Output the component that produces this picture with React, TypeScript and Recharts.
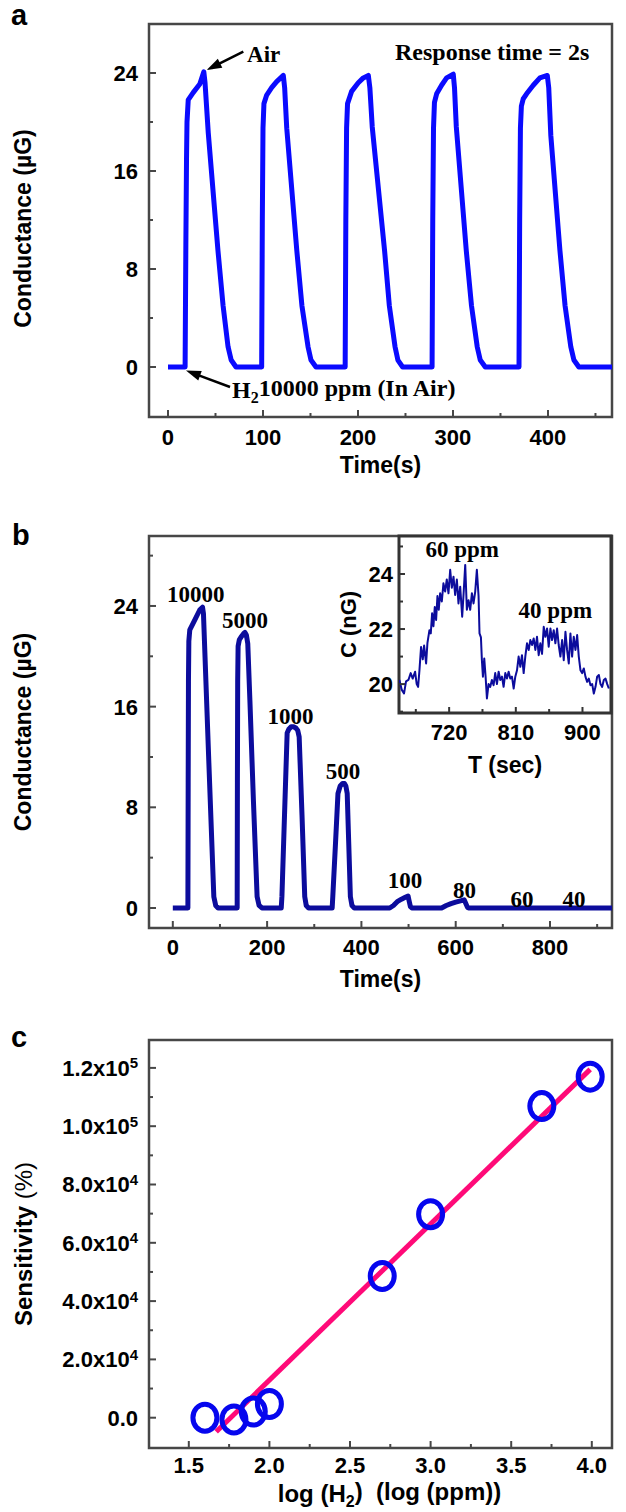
import React from 'react';
import {
  LineChart,
  Line,
  XAxis,
  YAxis,
  ReferenceArea,
  ReferenceDot,
  ReferenceLine,
  ComposedChart,
  Scatter,
  CartesianGrid,
} from 'recharts';

const SANS = '"Liberation Sans", Arial, Helvetica, sans-serif';
const SERIF = '"Liberation Serif", "Times New Roman", Times, serif';
const FRAME = '#474747';

// ---------------- Panel a: conductance vs time, 10000 ppm cycles ----------------
const aTime = [
  0, 18, 18.8, 19.5, 20, 21.3, 26.5, 33.5, 37.7, 39, 42.4, 52.6, 58, 63.2, 66.5, 71.6,
  98.6, 99.3, 100, 101, 103.9, 109.1, 114.4, 121.4, 122.8, 125, 135.6, 141, 147.4, 150.5, 155.8,
  186.5, 187.2, 188, 189, 193.3, 200.3, 205.6, 210.9, 212.5, 215, 228, 233, 239, 242, 247,
  278, 278.7, 279.5, 280.5, 282.8, 288, 293.3, 300.3, 301.6, 303.5, 314, 319.5, 325.5, 328.7, 334,
  369.5, 370.2, 371, 372, 374, 377.5, 384.5, 391.5, 399.3, 400.8, 403, 412.6, 418, 424, 427.3, 432.5, 468,
];
const aCond = [
  0, 0, 10, 17, 20, 21.8, 22.4, 23.1, 24.1, 23.2, 19.1, 9.5, 5, 1.66, 0.57, 0,
  0, 12, 19.5, 21.5, 22.2, 22.8, 23.3, 23.8, 22.8, 19.5, 9.5, 5, 1.66, 0.57, 0,
  0, 12, 19.5, 21.5, 22.5, 23.2, 23.6, 23.8, 22.8, 19.6, 9.5, 5, 1.66, 0.57, 0,
  0, 12, 19.5, 21.6, 22.3, 23.0, 23.6, 23.9, 22.8, 19.6, 9.5, 5, 1.66, 0.57, 0,
  0, 12, 19.5, 21.3, 21.9, 22.3, 23.0, 23.6, 23.8, 22.8, 18.9, 9.5, 5, 1.66, 0.57, 0, 0,
];
const aXTicks = [0, 50, 100, 150, 200, 250, 300, 350, 400, 450];
const aXMajor = [0, 100, 200, 300, 400];
const aYTicks = [0, 4, 8, 12, 16, 20, 24];
const aYMajor = [0, 8, 16, 24];

// ---------------- Panel b: conductance vs time, decreasing concentration ----------------
const bTime = [
  0, 32, 32.6, 33.2, 34, 36, 46.7, 57.3, 63, 65, 76, 87, 91, 96,
  136.5, 137, 137.6, 138.5, 141, 146, 150, 153, 156, 159, 163.5, 171, 178.8, 183, 189,
  230, 231.4, 236, 240, 242.5, 246, 251, 256, 261, 265, 268, 274, 279.8, 283, 288,
  338, 339.3, 345, 350.3, 355, 360, 364, 367, 369.9, 373, 376.6, 380, 385,
  460, 468, 476, 485, 493, 499, 501, 504, 507,
  570, 580, 590, 600, 610, 618, 621, 625, 627, 932,
];
const bCond = [
  0, 0, 10, 18, 21.2, 22.1, 22.9, 23.7, 23.9, 23.4, 12, 0.9, 0.2, 0,
  0, 10, 18, 20.8, 21.3, 21.6, 21.8, 21.9, 21.7, 21, 16.5, 8.5, 0.9, 0.2, 0,
  0, 0.9, 6.3, 11, 13.9, 14.2, 14.4, 14.4, 14.3, 14.1, 13.6, 7.4, 0.9, 0.2, 0,
  0, 0.9, 5.1, 9.1, 9.7, 9.9, 9.9, 9.7, 9.1, 5.3, 0.9, 0.2, 0,
  0, 0.2, 0.5, 0.7, 0.85, 0.95, 0.6, 0.1, 0,
  0, 0.2, 0.35, 0.47, 0.57, 0.65, 0.4, 0.05, 0, 0,
];
const bXTicks = [0, 100, 200, 300, 400, 500, 600, 700, 800, 900];
const bXMajor = [0, 200, 400, 600, 800];
const bYTicks = [0, 4, 8, 12, 16, 20, 24, 28];
const bYMajor = [0, 8, 16, 24];
const bPeakLabels = ['10000', '5000', '1000', '500', '100', '80', '60', '40'];

// ---------------- Inset: 60 ppm and 40 ppm responses ----------------
const insetTime = [
  652.8, 655.9, 659.1, 661.8, 665.0, 668.1, 670.8, 674.0, 676.2, 678.1,
  679.9, 682.1, 684.4, 686.2, 688.9, 690.7, 693.4, 695.2, 697.0, 698.8,
  700.6, 702.4, 704.2, 706.0, 707.8, 710.1, 712.3, 714.6, 716.8, 719.1,
  721.4, 723.6, 725.9, 728.1, 730.4, 732.6, 734.9, 737.6, 739.4, 741.7,
  743.9, 746.2, 748.4, 750.7, 752.9, 755.2, 757.4, 759.7, 761.0, 762.9,
  764.2, 765.6, 767.4, 769.2, 771.0, 773.2, 775.5, 777.7, 780.0, 782.2,
  784.5, 786.8, 789.0, 791.3, 793.5, 795.8, 798.0, 800.3, 802.5, 804.8,
  807.1, 809.3, 811.6, 813.8, 816.1, 818.3, 820.6, 822.8, 825.1, 827.4,
  829.6, 831.9, 834.1, 836.4, 838.6, 840.9, 843.1, 845.4, 847.7, 849.9,
  852.2, 854.4, 856.7, 858.9, 861.2, 863.4, 865.7, 867.9, 870.2, 872.5,
  874.7, 877.0, 879.2, 881.5, 883.7, 886.0, 888.2, 890.5, 892.8, 895.0,
  897.3, 899.5, 901.8, 904.0, 906.3, 908.5, 910.8, 913.1, 915.3, 917.6,
  919.8, 922.1, 924.3, 926.6, 928.8, 931.1, 933.4, 935.6,
];
const insetC = [
  20.15, 19.8, 19.66, 20.1, 20.15, 20.4, 20.2, 20.45, 20.0, 19.9,
  20.5, 21.35, 20.9, 21.4, 20.75, 21.5, 21.96, 21.84, 22.57, 22.1,
  22.8, 22.33, 23.2, 22.7, 23.3, 23.0, 23.66, 23.36, 23.8, 23.3,
  24.15, 23.5, 23.9, 23.24, 23.8, 22.93, 23.54, 22.45, 23.24, 24.33,
  22.7, 23.05, 22.7, 23.3, 22.93, 23.36, 24.15, 23.2, 21.84, 21.7,
  20.87, 20.27, 20.93, 20.27, 19.48, 20.0, 19.9, 20.15, 19.96, 20.4,
  20.0, 20.45, 20.15, 20.27, 19.9, 20.4, 20.2, 20.45, 20.2, 20.27,
  19.84, 20.27, 20.5, 21.0, 20.63, 21.05, 20.4, 21.0, 21.48, 21.24,
  21.6, 21.42, 21.66, 21.24, 21.72, 21.05, 21.48, 21.1, 22.08, 21.72,
  22.02, 21.36, 22.02, 21.6, 21.96, 21.48, 22.02, 21.42, 21.0, 21.6,
  20.87, 21.9, 21.24, 20.75, 21.84, 21.0, 21.72, 21.24, 21.78, 21.0,
  20.5, 20.4, 20.57, 20.27, 20.08, 20.2, 19.96, 20.0, 19.66, 19.9,
  20.27, 20.33, 20.0, 19.9, 20.15, 20.2, 20.0, 19.84,
];
const insetXTicks = [675, 720, 765, 810, 855, 900];
const insetXMajor = [720, 810, 900];
const insetYTicks = [19, 20, 21, 22, 23, 24, 25];
const insetYMajor = [20, 22, 24];

// ---------------- Panel c: sensitivity vs log(H2) ----------------
const cLogH2 = [1.6, 1.78, 1.9, 2.0, 2.7, 3.0, 3.69, 3.99];
const cSensitivity = [0, -600, 2100, 4700, 48600, 69800, 106900, 117000];
const cFitX = [1.67, 3.99];
const cFitY = [-4800, 119500];
const cXTicks = [1.5, 1.75, 2.0, 2.25, 2.5, 2.75, 3.0, 3.25, 3.5, 3.75, 4.0];
const cXMajor = [1.5, 2.0, 2.5, 3.0, 3.5, 4.0];
const cYTicks = [0, 10000, 20000, 30000, 40000, 50000, 60000, 70000, 80000, 90000, 100000, 110000, 120000];
const cYMajor = [0, 20000, 40000, 60000, 80000, 100000, 120000];

// ---------------- rows built from the arrays ----------------
const aRows = aTime.map((t, i) => ({ t, v: aCond[i] }));
const bRows = bTime.map((t, i) => ({ t, v: bCond[i] }));
const insetRows = insetTime.map((t, i) => ({ t, v: insetC[i] }));
const cPoints = cLogH2.map((x, i) => ({ x, y: cSensitivity[i] }));
const cFit = cFitX.map((x, i) => ({ x, y: cFitY[i] }));

// ---------------- helpers ----------------
type Fmt = (v: number) => React.ReactNode;

function makeTick(
  side: 'left' | 'bottom',
  majors: number[],
  opts: { gap: number; font: number; fmt?: Fmt; majorLen?: number; minorLen?: number; sw?: number; color?: string }
) {
  const { gap, font, fmt = (v: number) => String(v), majorLen = 7, minorLen = 4, sw = 2, color = FRAME } = opts;
  return (props: any) => {
    const { x, y, payload } = props;
    const v = Number(payload.value);
    const major = majors.some((m) => Math.abs(m - v) < 1e-6 * Math.max(1, Math.abs(m)));
    const len = major ? majorLen : minorLen;
    if (side === 'left') {
      return (
        <g>
          <line x1={x} x2={x + len} y1={y} y2={y} stroke={color} strokeWidth={sw} />
          {major && (
            <text x={x - gap} y={y} dy="0.36em" textAnchor="end" fontFamily={SANS} fontWeight="bold" fontSize={font} fill="#000">
              {fmt(v)}
            </text>
          )}
        </g>
      );
    }
    return (
      <g>
        <line x1={x} x2={x} y1={y} y2={y - len} stroke={color} strokeWidth={sw} />
        {major && (
          <text x={x} y={y + gap} textAnchor="middle" fontFamily={SANS} fontWeight="bold" fontSize={font} fill="#000">
            {fmt(v)}
          </text>
        )}
      </g>
    );
  };
}

const yLabel = (content: React.ReactNode, bx: number, font = 23, dy = 0) => (props: any) => {
  const vb = props.viewBox || { x: 0, y: 0, width: 0, height: 0 };
  const cx = vb.x + bx;
  const cy = vb.y + vb.height / 2 + dy;
  return (
    <text x={cx} y={cy} transform={`rotate(-90 ${cx} ${cy})`} textAnchor="middle" fontFamily={SANS} fontWeight="bold" fontSize={font} fill="#000">
      {content}
    </text>
  );
};

const xLabel = (content: React.ReactNode, off: number, dx = 0, font = 23) => (props: any) => {
  const vb = props.viewBox || { x: 0, y: 0, width: 0, height: 0 };
  return (
    <text x={vb.x + vb.width / 2 + dx} y={vb.y + off} textAnchor="middle" fontFamily={SANS} fontWeight="bold" fontSize={font} fill="#000">
      {content}
    </text>
  );
};

const serifText = (content: React.ReactNode, anchor: 'start' | 'middle' | 'end' = 'start', font = 23) => (p: any) => (
  <text x={p.cx} y={p.cy} textAnchor={anchor} fontFamily={SERIF} fontWeight="bold" fontSize={font} fill="#000">
    {content}
  </text>
);

const Arrow = (p: any) => {
  const { x1, y1, x2, y2 } = p;
  const dx = x2 - x1;
  const dy = y2 - y1;
  const L = Math.hypot(dx, dy) || 1;
  const ux = dx / L;
  const uy = dy / L;
  const hl = 15;
  const hw = 5;
  const bx = x2 - ux * hl;
  const by = y2 - uy * hl;
  const pts = `${x2},${y2} ${bx - uy * hw},${by + ux * hw} ${bx + uy * hw},${by - ux * hw}`;
  return (
    <g>
      <line x1={x1} y1={y1} x2={bx + ux * 2} y2={by + uy * 2} stroke="#000" strokeWidth={2.5} />
      <polygon points={pts} fill="#000" />
    </g>
  );
};

const sciFmt: Fmt = (v) => {
  if (v === 0) return '0.0';
  const exp = Math.floor(Math.log10(Math.abs(v)));
  const m = v / Math.pow(10, exp);
  return (
    <>
      {m.toFixed(1)}x10
      <tspan dy="-0.5em" fontSize={15}>
        {exp}
      </tspan>
    </>
  );
};
const oneDec: Fmt = (v) => v.toFixed(1);

const aXTick = makeTick('bottom', aXMajor, { gap: 28, font: 22 });
const aYTick = makeTick('left', aYMajor, { gap: 11, font: 22 });
const bXTick = makeTick('bottom', bXMajor, { gap: 27, font: 22 });
const bYTick = makeTick('left', bYMajor, { gap: 11, font: 22 });
const iXTick = makeTick('bottom', insetXMajor, { gap: 27, font: 22, majorLen: 6, minorLen: 4, color: '#333' });
const iYTick = makeTick('left', insetYMajor, { gap: 6, font: 22, majorLen: 6, minorLen: 4, color: '#333' });
const cXTick = makeTick('bottom', cXMajor, { gap: 25, font: 22, fmt: oneDec });
const cYTick = makeTick('left', cYMajor, { gap: 11, font: 22, fmt: sciFmt });

const A_X: [number, number] = [-20, 467.4];
const A_Y: [number, number] = [-4.08, 28];
const B_X: [number, number] = [-50.5, 931.5];
const B_Y: [number, number] = [-1.59, 29.56];
const I_X: [number, number] = [652.3, 938.5];
const I_Y: [number, number] = [18.95, 25.38];
const C_X: [number, number] = [1.2531, 4.1253];
const C_Y: [number, number] = [-10394, 129571];

const bLabelPos = [
  { t: 48.4, v: 24.34 },
  { t: 153.1, v: 22.25 },
  { t: 249.8, v: 14.62 },
  { t: 361, v: 10.25 },
  { t: 492.5, v: 1.59 },
  { t: 618.4, v: 0.77 },
  { t: 740.6, v: 0.1 },
  { t: 851, v: 0.1 },
];

export default function App() {
  return (
    <div style={{ position: 'absolute', left: 0, top: 0, width: 626, height: 1512, background: '#fff', overflow: 'hidden' }}>
      {/* Panel a */}
      <div style={{ position: 'absolute', left: 0, top: 0 }}>
        <LineChart width={626} height={500} data={aRows} margin={{ top: 24, right: 14, bottom: 0, left: 0 }}>
          <XAxis
            dataKey="t"
            type="number"
            domain={A_X}
            allowDataOverflow
            ticks={aXTicks}
            interval={0}
            tickLine={false}
            axisLine={false}
            tickSize={0}
            tickMargin={0}
            height={83}
            tick={aXTick}
            label={xLabel('Time(s)', 56)}
          />
          <YAxis
            type="number"
            domain={A_Y}
            allowDataOverflow
            ticks={aYTicks}
            interval={0}
            tickLine={false}
            axisLine={false}
            tickSize={0}
            tickMargin={0}
            width={149}
            tick={aYTick}
            label={yLabel('Conductance (µG)', 31, 23, 8)}
          />
          <ReferenceArea x1={A_X[0]} x2={A_X[1]} y1={A_Y[0]} y2={A_Y[1]} fill="none" fillOpacity={0} stroke={FRAME} strokeWidth={2.5} ifOverflow="visible" />
          <Line type="linear" dataKey="v" stroke="#0a0aff" strokeWidth={5} strokeLinejoin="round" dot={false} isAnimationActive={false} />
          <ReferenceLine segment={[{ x: 79.3, y: 25.74 }, { x: 40.7, y: 24.24 }]} shape={Arrow} ifOverflow="visible" />
          <ReferenceDot x={83.2} y={24.9} r={1} ifOverflow="visible" shape={serifText('Air')} />
          <ReferenceDot x={239} y={25.06} r={1} ifOverflow="visible" shape={serifText('Response time = 2s', 'start', 24)} />
          <ReferenceLine segment={[{ x: 65.3, y: -1.63 }, { x: 18.9, y: -0.29 }]} shape={Arrow} ifOverflow="visible" />
          <ReferenceDot
            x={67.4}
            y={-2.53}
            r={1}
            ifOverflow="visible"
            shape={serifText(
              <>
                H
                <tspan dy="0.3em" fontSize={16}>
                  2
                </tspan>
                <tspan dy="-0.3em">10000 ppm (In Air)</tspan>
              </>,
              'start',
              24
            )}
          />
        </LineChart>
      </div>

      {/* Panel b */}
      <div style={{ position: 'absolute', left: 0, top: 500 }}>
        <LineChart width={626} height={510} data={bRows} margin={{ top: 36, right: 14, bottom: 0, left: 0 }}>
          <XAxis
            dataKey="t"
            type="number"
            domain={B_X}
            allowDataOverflow
            ticks={bXTicks}
            interval={0}
            tickLine={false}
            axisLine={false}
            tickSize={0}
            tickMargin={0}
            height={82}
            tick={bXTick}
            label={xLabel('Time(s)', 59)}
          />
          <YAxis
            type="number"
            domain={B_Y}
            allowDataOverflow
            ticks={bYTicks}
            interval={0}
            tickLine={false}
            axisLine={false}
            tickSize={0}
            tickMargin={0}
            width={149}
            tick={bYTick}
            label={yLabel('Conductance (µG)', 31)}
          />
          <ReferenceArea x1={B_X[0]} x2={B_X[1]} y1={B_Y[0]} y2={B_Y[1]} fill="none" fillOpacity={0} stroke={FRAME} strokeWidth={2.5} ifOverflow="visible" />
          <Line type="linear" dataKey="v" stroke="#0c0c9c" strokeWidth={5} strokeLinejoin="round" dot={false} isAnimationActive={false} />
          {bPeakLabels.map((lab, i) => (
            <ReferenceDot key={lab} x={bLabelPos[i].t} y={bLabelPos[i].v} r={1} ifOverflow="visible" shape={serifText(lab, 'middle')} />
          ))}
        </LineChart>
      </div>

      {/* Inset in panel b */}
      <div style={{ position: 'absolute', left: 320, top: 520 }}>
        <LineChart width={306} height={260} data={insetRows} margin={{ top: 16, right: 15, bottom: 0, left: 0 }}>
          <CartesianGrid fill="#fff" horizontal={false} vertical={false} />
          <XAxis
            dataKey="t"
            type="number"
            domain={I_X}
            allowDataOverflow
            ticks={insetXTicks}
            interval={0}
            tickLine={false}
            axisLine={false}
            tickSize={0}
            tickMargin={0}
            height={67}
            tick={iXTick}
            label={xLabel('T (sec)', 60)}
          />
          <YAxis
            type="number"
            domain={I_Y}
            allowDataOverflow
            ticks={insetYTicks}
            interval={0}
            tickLine={false}
            axisLine={false}
            tickSize={0}
            tickMargin={0}
            width={79}
            tick={iYTick}
            label={yLabel('C (nG)', 36, 22)}
          />
          <Line type="linear" dataKey="v" stroke="#0c0c9c" strokeWidth={2} strokeLinejoin="round" dot={false} isAnimationActive={false} />
          <ReferenceArea x1={I_X[0]} x2={I_X[1]} y1={I_Y[0]} y2={I_Y[1]} fill="none" fillOpacity={0} stroke="#333" strokeWidth={3} ifOverflow="visible" />
          <ReferenceDot x={737.6} y={24.62} r={1} ifOverflow="visible" shape={serifText('60 ppm', 'middle')} />
          <ReferenceDot x={863.4} y={22.4} r={1} ifOverflow="visible" shape={serifText('40 ppm', 'middle')} />
        </LineChart>
      </div>

      {/* Panel c */}
      <div style={{ position: 'absolute', left: 0, top: 1010 }}>
        <ComposedChart width={626} height={502} margin={{ top: 30, right: 14, bottom: 0, left: 0 }}>
          <XAxis
            dataKey="x"
            type="number"
            domain={C_X}
            allowDataOverflow
            ticks={cXTicks}
            interval={0}
            tickLine={false}
            axisLine={false}
            tickSize={0}
            tickMargin={0}
            height={64}
            tick={cXTick}
            label={xLabel(
              <>
                log (H
                <tspan dy="0.3em" fontSize={16}>
                  2
                </tspan>
                <tspan dy="-0.3em">){'\u00A0\u00A0'}(log (ppm))</tspan>
              </>,
              54,
              9,
              24
            )}
          />
          <YAxis
            dataKey="y"
            type="number"
            domain={C_Y}
            allowDataOverflow
            ticks={cYTicks}
            interval={0}
            tickLine={false}
            axisLine={false}
            tickSize={0}
            tickMargin={0}
            width={149}
            tick={cYTick}
            label={yLabel(
              <>
                Sensitivity <tspan fontWeight="normal">(%)</tspan>
              </>,
              32,
              24
            )}
          />
          <ReferenceArea x1={C_X[0]} x2={C_X[1]} y1={C_Y[0]} y2={C_Y[1]} fill="none" fillOpacity={0} stroke={FRAME} strokeWidth={2.5} ifOverflow="visible" />
          <Scatter
            data={cPoints}
            dataKey="y"
            isAnimationActive={false}
            shape={(p: any) => <ellipse cx={p.cx} cy={p.cy} rx={12} ry={13.5} fill="none" stroke="#0606ee" strokeWidth={5} />}
          />
          <Line data={cFit} type="linear" dataKey="y" stroke="#ff0a78" strokeWidth={5} dot={false} isAnimationActive={false} />
        </ComposedChart>
      </div>

      {/* panel letters */}
      <svg width={626} height={1512} style={{ position: 'absolute', left: 0, top: 0, pointerEvents: 'none' }}>
        <text x={11} y={25} fontFamily={SANS} fontWeight="bold" fontSize={29} fill="#000">
          a
        </text>
        <text x={12} y={545} fontFamily={SANS} fontWeight="bold" fontSize={29} fill="#000">
          b
        </text>
        <text x={11} y={1047} fontFamily={SANS} fontWeight="bold" fontSize={29} fill="#000">
          c
        </text>
      </svg>
    </div>
  );
}
